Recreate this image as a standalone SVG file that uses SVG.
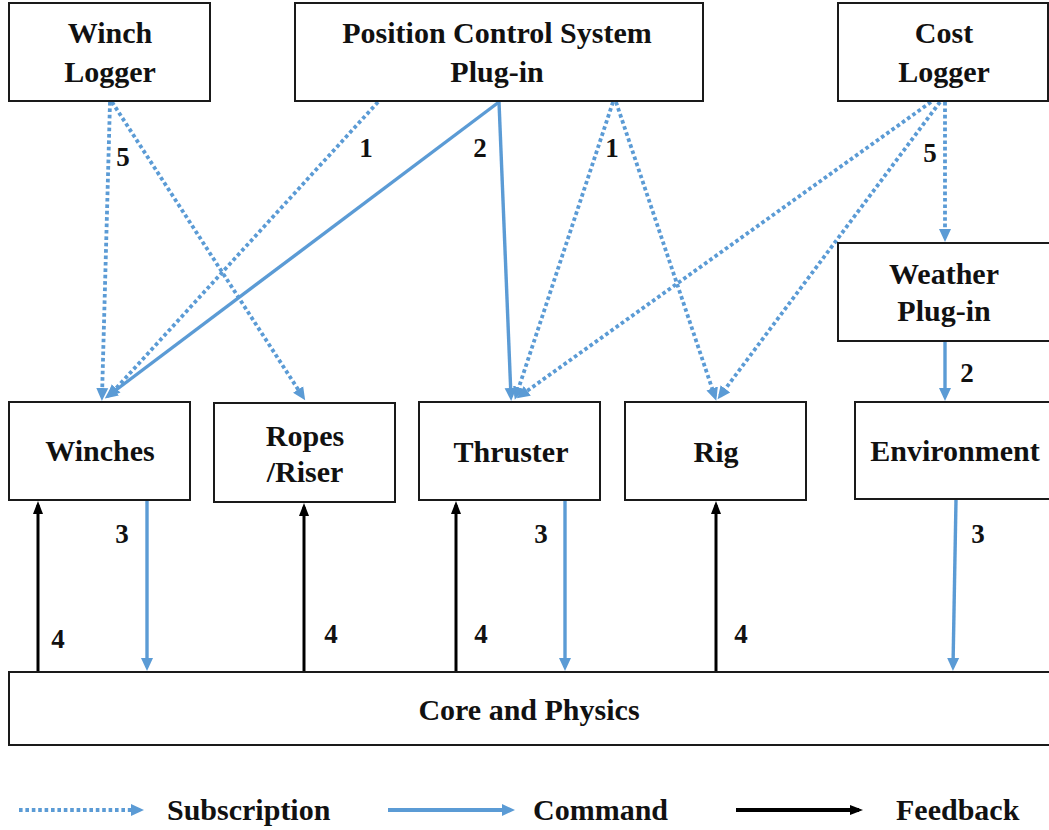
<svg xmlns="http://www.w3.org/2000/svg" width="1049" height="830" viewBox="0 0 1049 830">
  <style>
    .box { fill: #ffffff; stroke: #1a1a1a; stroke-width: 2; }
    .lbl { font-family: "Liberation Serif", "Times New Roman", serif; font-weight: bold; font-size: 30px; fill: #111111; text-anchor: middle; }
    .num { font-family: "Liberation Serif", "Times New Roman", serif; font-weight: bold; font-size: 27px; fill: #111111; text-anchor: middle; }
    .sub { fill: none; stroke: #5b9bd5; stroke-width: 3.8; stroke-dasharray: 3.6 2.8; marker-end: url(#blueHead); }
    .cmd { fill: none; stroke: #5b9bd5; stroke-width: 3.4; marker-end: url(#blueHead); }
    .fb { fill: none; stroke: #000000; stroke-width: 3; marker-end: url(#blackHead); }
  </style>
  <defs>
    <marker id="blueHead" markerUnits="userSpaceOnUse" markerWidth="14" markerHeight="14" viewBox="0 0 14 14" refX="9" refY="7" orient="auto">
      <path d="M0,1 L13,7 L0,13 z" fill="#5b9bd5"/>
    </marker>
    <marker id="blackHead" markerUnits="userSpaceOnUse" markerWidth="14" markerHeight="14" viewBox="0 0 14 14" refX="9" refY="7" orient="auto">
      <path d="M0,2 L13,7 L0,12 z" fill="#000000"/>
    </marker>
  </defs>

  <rect width="1049" height="830" fill="#ffffff"/>

  <!-- connectors -->
  <g id="connectors">
    <!-- subscriptions -->
    <line class="sub" x1="110" y1="102" x2="102" y2="397"/>
    <line class="sub" x1="112" y1="102" x2="303" y2="397"/>
    <line class="sub" x1="378" y1="102" x2="110" y2="395"/>
    <line class="sub" x1="613" y1="102" x2="516" y2="396"/>
    <line class="sub" x1="616" y1="102" x2="715" y2="397"/>
    <line class="sub" x1="931" y1="102" x2="520" y2="396"/>
    <line class="sub" x1="940" y1="102" x2="720" y2="396"/>
    <line class="sub" x1="945" y1="102" x2="945" y2="238"/>
    <!-- commands -->
    <line class="cmd" x1="499" y1="102" x2="108" y2="396"/>
    <line class="cmd" x1="499" y1="102" x2="511" y2="397"/>
    <line class="cmd" x1="945" y1="342" x2="945" y2="397"/>
    <line class="cmd" x1="147" y1="501" x2="147" y2="667"/>
    <line class="cmd" x1="565" y1="501" x2="565" y2="667"/>
    <line class="cmd" x1="956" y1="500" x2="953" y2="667"/>
    <!-- feedback -->
    <line class="fb" x1="38" y1="672" x2="38" y2="505"/>
    <line class="fb" x1="304" y1="672" x2="304" y2="507"/>
    <line class="fb" x1="456" y1="672" x2="456" y2="505"/>
    <line class="fb" x1="716" y1="672" x2="716" y2="505"/>
    <!-- step numbers -->
    <text class="num" x="123" y="166">5</text>
    <text class="num" x="366" y="157">1</text>
    <text class="num" x="480" y="157">2</text>
    <text class="num" x="612" y="157">1</text>
    <text class="num" x="930" y="162">5</text>
    <text class="num" x="967" y="382">2</text>
    <text class="num" x="122" y="543">3</text>
    <text class="num" x="541" y="543">3</text>
    <text class="num" x="978" y="543">3</text>
    <text class="num" x="58" y="648">4</text>
    <text class="num" x="331" y="643">4</text>
    <text class="num" x="481" y="643">4</text>
    <text class="num" x="741" y="643">4</text>
  </g>

  <!-- nodes -->
  <g id="winch-logger">
    <rect class="box" x="9" y="3" width="201" height="98"/>
    <text class="lbl" x="110" y="43">Winch</text>
    <text class="lbl" x="110" y="82">Logger</text>
  </g>
  <g id="position-control">
    <rect class="box" x="295" y="3" width="408" height="98"/>
    <text class="lbl" x="497" y="43">Position Control System</text>
    <text class="lbl" x="497" y="82">Plug-in</text>
  </g>
  <g id="cost-logger">
    <rect class="box" x="838" y="3" width="210" height="98"/>
    <text class="lbl" x="944" y="43">Cost</text>
    <text class="lbl" x="944" y="82">Logger</text>
  </g>
  <g id="weather-plugin">
    <rect class="box" x="838" y="243" width="212" height="98"/>
    <text class="lbl" x="944" y="284">Weather</text>
    <text class="lbl" x="944" y="321">Plug-in</text>
  </g>
  <g id="winches">
    <rect class="box" x="9" y="402" width="181" height="98"/>
    <text class="lbl" x="100" y="461">Winches</text>
  </g>
  <g id="ropes-riser">
    <rect class="box" x="214" y="403" width="181" height="99"/>
    <text class="lbl" x="305" y="446">Ropes</text>
    <text class="lbl" x="305" y="482">/Riser</text>
  </g>
  <g id="thruster">
    <rect class="box" x="419" y="402" width="181" height="98"/>
    <text class="lbl" x="511" y="462">Thruster</text>
  </g>
  <g id="rig">
    <rect class="box" x="625" y="402" width="181" height="98"/>
    <text class="lbl" x="716" y="462">Rig</text>
  </g>
  <g id="environment">
    <rect class="box" x="855" y="402" width="200" height="97"/>
    <text class="lbl" x="955" y="461">Environment</text>
  </g>
  <g id="core-physics">
    <rect class="box" x="9" y="672" width="1045" height="73"/>
    <text class="lbl" x="529" y="720">Core and Physics</text>
  </g>

  <!-- legend -->
  <g id="legend">
    <line class="sub" x1="19" y1="810" x2="140" y2="810"/>
    <text class="lbl" x="167" y="820" style="text-anchor:start">Subscription</text>
    <line class="cmd" x1="388" y1="810" x2="511" y2="810" style="stroke-width:4"/>
    <text class="lbl" x="533" y="820" style="text-anchor:start">Command</text>
    <line class="fb" x1="736" y1="810" x2="859" y2="810" style="stroke-width:4"/>
    <text class="lbl" x="896" y="820" style="text-anchor:start">Feedback</text>
  </g>
</svg>
